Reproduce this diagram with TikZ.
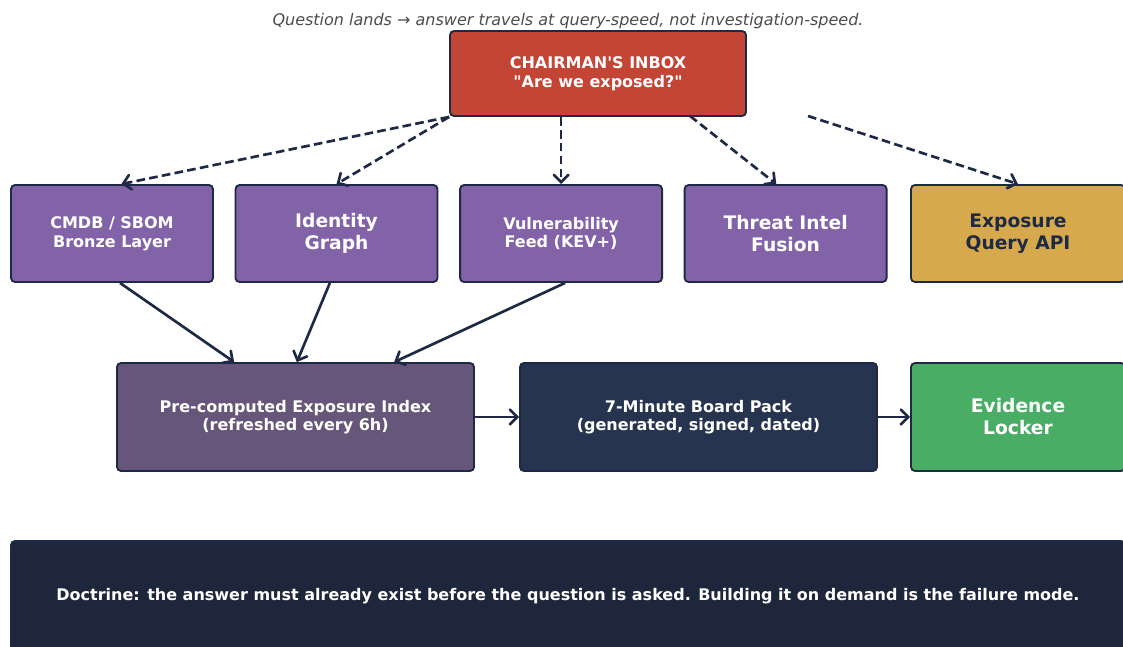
\documentclass[tikz,border=0pt]{standalone}
\usepackage{fontspec}
\setmainfont{DejaVu Sans}[ItalicFont={DejaVu Sans Oblique}, BoldFont={DejaVu Sans Bold}, Ligatures=TeXOff]
\usetikzlibrary{positioning,arrows.meta}
\definecolor{navy}{HTML}{1E2A45}
\definecolor{inboxred}{HTML}{C24536}
\definecolor{srcpurple}{HTML}{8263A8}
\definecolor{apigold}{HTML}{D6A94C}
\definecolor{indexplum}{HTML}{66577A}
\definecolor{packnavy}{HTML}{27344F}
\definecolor{lockergreen}{HTML}{4AAD66}
\definecolor{bannerdark}{HTML}{1E263B}

\begin{document}
\begin{tikzpicture}[
    x=0.75pt, y=-0.75pt,
    >={Straight Barb[length=5.5pt, width=11pt, line cap=round]},
    box/.style={draw=navy, line width=1.4pt, rounded corners=3pt, minimum height=72.75pt, minimum width=151.5pt, align=center, text=white},
    big/.style={font=\bfseries\fontsize{14}{16.5}\selectfont},
    small/.style={font=\bfseries\fontsize{12}{14}\selectfont},
    feed/.style={->, navy, line width=2pt, dash pattern=on 6.5pt off 3.2pt},
    flow/.style={->, navy, line width=2pt},
  ]
  \useasboundingbox (0,0) rectangle (1123,646);

  \node[text=black!70, font=\itshape\fontsize{12}{14}\selectfont] (title) at (568,21)
    {Question lands → answer travels at query-speed, not investigation-speed.};

  \node[box, small, fill=inboxred, minimum width=222pt, minimum height=63.75pt] (inbox) at (598,73.5)
    {CHAIRMAN'S INBOX\\"Are we exposed?"};

  % sources
  \node[box, small, fill=srcpurple] (cmdb) at (112,233.5) {CMDB / SBOM\\Bronze Layer};
  \node[box, big, fill=srcpurple, right=15.5pt of cmdb] (ident) {Identity\\Graph};
  \node[box, small, fill=srcpurple, right=15.5pt of ident] (vuln) {Vulnerability\\Feed (KEV+)};
  \node[box, big, fill=srcpurple, right=15.5pt of vuln] (intel) {Threat Intel\\Fusion};
  \node[box, big, fill=apigold, text=navy, minimum width=160.5pt] (api) at (1018,233.5) {Exposure\\Query API};

  % pipeline
  \node[box, small, fill=indexplum, minimum width=267.75pt, minimum height=81pt] (index) at (295.5,417)
    {Pre-computed Exposure Index\\(refreshed every 6h)};
  \node[box, small, fill=packnavy, minimum width=267.75pt, minimum height=81pt] (pack) at (698.5,417)
    {7-Minute Board Pack\\(generated, signed, dated)};
  \node[box, big, fill=lockergreen, minimum width=160.5pt, minimum height=81pt] (locker) at (1018,417)
    {Evidence\\Locker};

  \node[box, fill=bannerdark, minimum width=835.5pt, minimum height=82.5pt, font=\bfseries\fontsize{12}{14}\selectfont] (doctrine) at (568,596)
    {Doctrine: the answer must already exist before the question is asked. Building it on demand is the failure mode.};

  \coordinate (q3) at (690,116);
  \coordinate (q4) at (808,116);

  \draw[feed] (inbox.south west) -- ([xshift=7pt]cmdb.north);
  \draw[feed] (inbox.south west) -- (ident.north);
  \draw[feed] (inbox.south -| vuln.north) -- (vuln.north);
  \draw[feed] (q3) -- ([xshift=-7pt]intel.north);
  \draw[feed] (q4) -- (api.north);

  \draw[flow] ([xshift=6pt]cmdb.south) -- ([xshift=-46pt]index.north);
  \draw[flow] ([xshift=-5pt]ident.south) -- ([xshift=1pt]index.north);
  \draw[flow] ([xshift=3pt]vuln.south) -- ([xshift=74pt]index.north);
  \draw[flow] (index) -- (pack);
  \draw[flow] (pack) -- (locker);
\end{tikzpicture}
\end{document}
